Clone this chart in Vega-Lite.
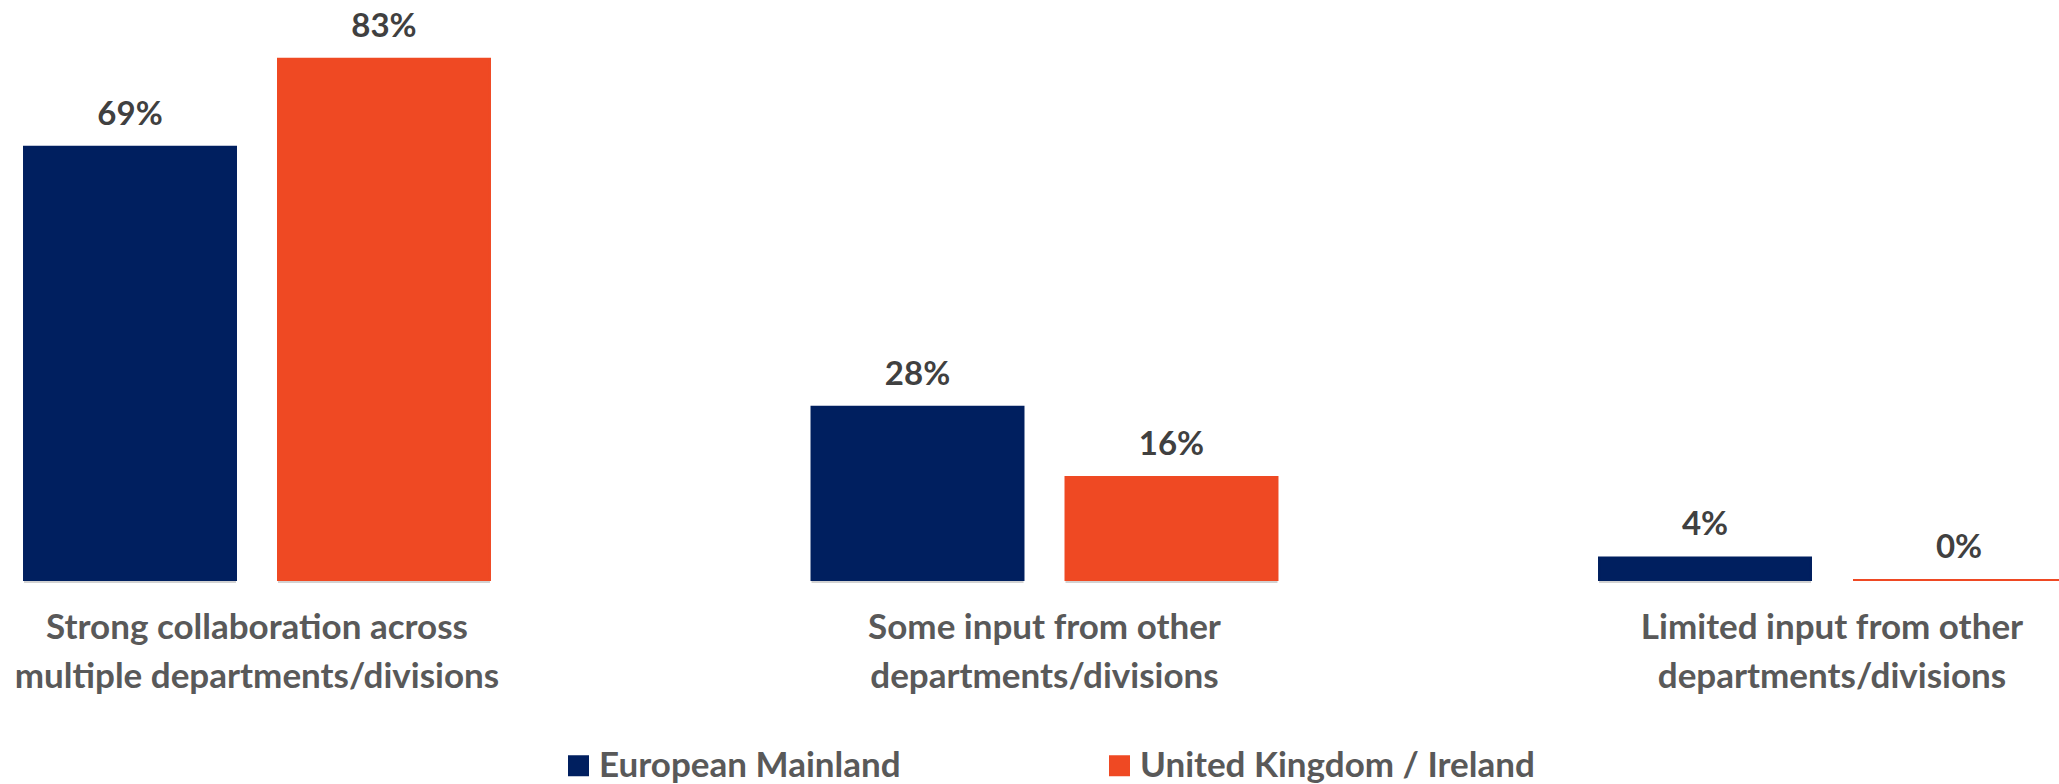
{
  "$schema": "https://vega.github.io/schema/vega-lite/v6.json",
  "autosize": {"type": "none"},
  "padding": {"left": 0, "top": 0, "right": 0, "bottom": 204},
  "width": 2089,
  "height": 580,
  "background": "white",
  "config": {
    "view": {"stroke": null},
    "font": "Lato"
  },
  "data": {
    "values": [
      {"category": "Strong collaboration across multiple departments/divisions", "region": "European Mainland", "value": 69, "label": "69%"},
      {"category": "Strong collaboration across multiple departments/divisions", "region": "United Kingdom / Ireland", "value": 83, "label": "83%"},
      {"category": "Some input from other departments/divisions", "region": "European Mainland", "value": 27.6, "label": "28%"},
      {"category": "Some input from other departments/divisions", "region": "United Kingdom / Ireland", "value": 16.4, "label": "16%"},
      {"category": "Limited input from other departments/divisions", "region": "European Mainland", "value": 3.6, "label": "4%"},
      {"category": "Limited input from other departments/divisions", "region": "United Kingdom / Ireland", "value": 0, "label": "0%"}
    ]
  },
  "encoding": {
    "x": {
      "field": "category",
      "type": "nominal",
      "sort": null,
      "scale": {"paddingInner": 0.4083, "paddingOuter": 0.0305},
      "axis": {
        "title": null,
        "domain": false,
        "ticks": false,
        "labelAngle": 0,
        "labelFont": "Lato",
        "labelFontWeight": "bold",
        "labelFontSize": 35,
        "labelColor": "#595959",
        "labelPadding": 30,
        "labelLineHeight": 49,
        "labelLimit": 0,
        "labelExpr": "datum.value == 'Strong collaboration across multiple departments/divisions' ? ['Strong collaboration across', 'multiple departments/divisions'] : datum.value == 'Some input from other departments/divisions' ? ['Some input from other', 'departments/divisions'] : ['Limited input from other', 'departments/divisions']"
      }
    },
    "xOffset": {
      "field": "region",
      "type": "nominal",
      "sort": ["European Mainland", "United Kingdom / Ireland"],
      "scale": {"paddingInner": 0.1654, "paddingOuter": 0}
    },
    "y": {
      "field": "value",
      "type": "quantitative",
      "scale": {"domain": [0, 92.36], "nice": false, "zero": true},
      "axis": null
    }
  },
  "layer": [
    {
      "mark": {"type": "bar", "color": "#7f7f7f", "opacity": 0.35, "xOffset": 4, "yOffset": 3}
    },
    {
      "mark": {"type": "bar", "strokeWidth": 2},
      "encoding": {
        "color": {
          "field": "region",
          "type": "nominal",
          "sort": ["European Mainland", "United Kingdom / Ireland"],
          "scale": {"domain": ["European Mainland", "United Kingdom / Ireland"], "range": ["#001F5F", "#EF4923"]},
          "legend": {
            "title": null,
            "orient": "none",
            "legendX": 561,
            "legendY": 748,
            "direction": "horizontal",
            "symbolType": "square",
            "symbolSize": 441,
            "symbolStrokeWidth": 0,
            "symbolOpacity": 1,
            "labelFont": "Lato",
            "labelFontWeight": "bold",
            "labelFontSize": 35,
            "labelColor": "#595959",
            "labelOffset": 3,
            "labelLimit": 0,
            "columnPadding": 201
          }
        },
        "stroke": {
          "field": "region",
          "type": "nominal",
          "scale": {"domain": ["European Mainland", "United Kingdom / Ireland"], "range": ["#001F5F", "#EF4923"]},
          "legend": null
        }
      }
    },
    {
      "mark": {"type": "text", "baseline": "alphabetic", "dy": -22, "font": "Lato", "fontWeight": "bold", "fontSize": 33, "color": "#404040"},
      "encoding": {
        "text": {"field": "label"}
      }
    }
  ]
}
